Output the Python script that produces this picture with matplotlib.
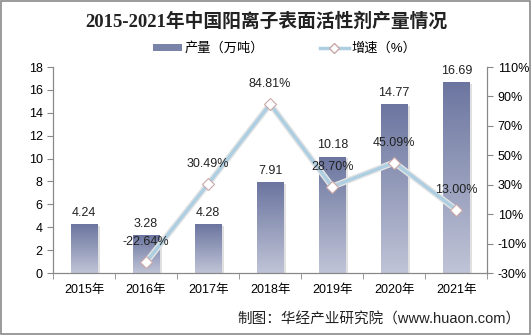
import numpy as np
import matplotlib.pyplot as plt
from matplotlib.lines import Line2D
from matplotlib.patches import Patch, Rectangle
from matplotlib.colors import LinearSegmentedColormap

years = ['2015年', '2016年', '2017年', '2018年', '2019年', '2020年', '2021年']
output = [4.24, 3.28, 4.28, 7.91, 10.18, 14.77, 16.69]
growth = [None, -22.64, 30.49, 84.81, 28.70, 45.09, 13.00]

plt.rcParams['font.family'] = ['Liberation Sans', 'Noto Sans CJK SC']

fig = plt.figure(figsize=(5.32, 3.35), dpi=100)
fig.patches.append(Rectangle((0.002, 0.003), 0.995, 0.994, transform=fig.transFigure,
                             fill=False, edgecolor='#8a8a8a', lw=1.2))
ax = fig.add_axes([0.0996, 0.185, 0.8164, 0.615])
ax2 = ax.twinx()

x = np.arange(len(years))
w = 0.43
grad = np.linspace(0, 1, 256).reshape(-1, 1)
cmap = LinearSegmentedColormap.from_list('b', ['#c0c4d7', '#6b759f'])
bars = ax.bar(x, output, width=w, color='none', zorder=2)
for b, v in zip(bars, output):
    # soft shadow on the right
    ax.add_patch(Rectangle((b.get_x() + 0.04, 0), w, v - 0.15, color='#e0e0e0', zorder=1, lw=0))
    im = ax.imshow(grad, extent=[b.get_x(), b.get_x() + w, 0, v], origin='lower',
                   aspect='auto', cmap=cmap, zorder=2)
    im.set_clip_path(b)
    ax.text(b.get_x() + w / 2, v + 0.45, f'{v:.2f}', ha='center', va='bottom',
            fontsize=9, color='#222222')

ax.set_xlim(-0.5, len(years) - 0.5)
ax.set_ylim(0, 18)
ax.set_yticks(range(0, 19, 2))
ax.set_xticks(x)
ax.set_xticklabels(years)
ax.set_xticks(np.arange(-0.5, len(years), 1), minor=True)
ax.tick_params(axis='x', which='major', length=0, pad=8, labelsize=9)
ax.tick_params(axis='x', which='minor', length=4, color='#888888', direction='out')
ax.tick_params(axis='y', length=4, color='#888888', labelsize=9)

gx = [i for i, g in enumerate(growth) if g is not None]
gy = [g for g in growth if g is not None]
ax2.plot(gx, gy, color='#e4e4e4', lw=4.5, zorder=3)
ax2.plot(gx, gy, color='#aecfe2', lw=2.5, zorder=4,
         marker='D', markersize=6, markerfacecolor='white', markeredgecolor='#c9a8a8',
         markeredgewidth=0.8)
for xi, yi in zip(gx, gy):
    ax2.annotate(f'{yi:.2f}%', (xi, yi), xytext=(0, 10), textcoords='offset points',
                 ha='center', va='bottom', fontsize=9, color='#222222', zorder=5)
ax2.set_ylim(-30, 110)
ax2.set_yticks(range(-30, 111, 20))
ax2.set_yticklabels([f'{t}%' for t in range(-30, 111, 20)])
ax2.tick_params(axis='y', length=4, color='#888888', labelsize=9)

for a in (ax, ax2):
    a.spines['top'].set_visible(False)
    for s in ('left', 'right', 'bottom'):
        a.spines[s].set_color('#888888')
ax.set_zorder(ax2.get_zorder() - 1)
ax2.patch.set_visible(False)
ax.patch.set_visible(False)

fig.text(0.5, 0.935, '2015-2021年中国阳离子表面活性剂产量情况', ha='center', va='center',
         fontsize=13.5, fontweight='bold', family=['Liberation Serif', 'Noto Sans CJK SC'],
         color='#222222')

handles = [Patch(facecolor='#7a83a8', edgecolor='none'),
           Line2D([0], [0], color='#aecfe2', lw=2.5, marker='D', markersize=5,
                  markerfacecolor='white', markeredgecolor='#c9a8a8')]
fig.legend(handles, ['产量（万吨）', '增速（%）'], loc='center', bbox_to_anchor=(0.535, 0.855),
           ncol=2, frameon=False, fontsize=9.5, handlelength=2.2, handleheight=0.5,
           columnspacing=4.2, handletextpad=0.2)

fig.text(0.978, 0.045, '制图：华经产业研究院（www.huaon.com）', ha='right', va='center',
         fontsize=10.5, color='#222222')

fig.savefig('out.png', dpi=100)
